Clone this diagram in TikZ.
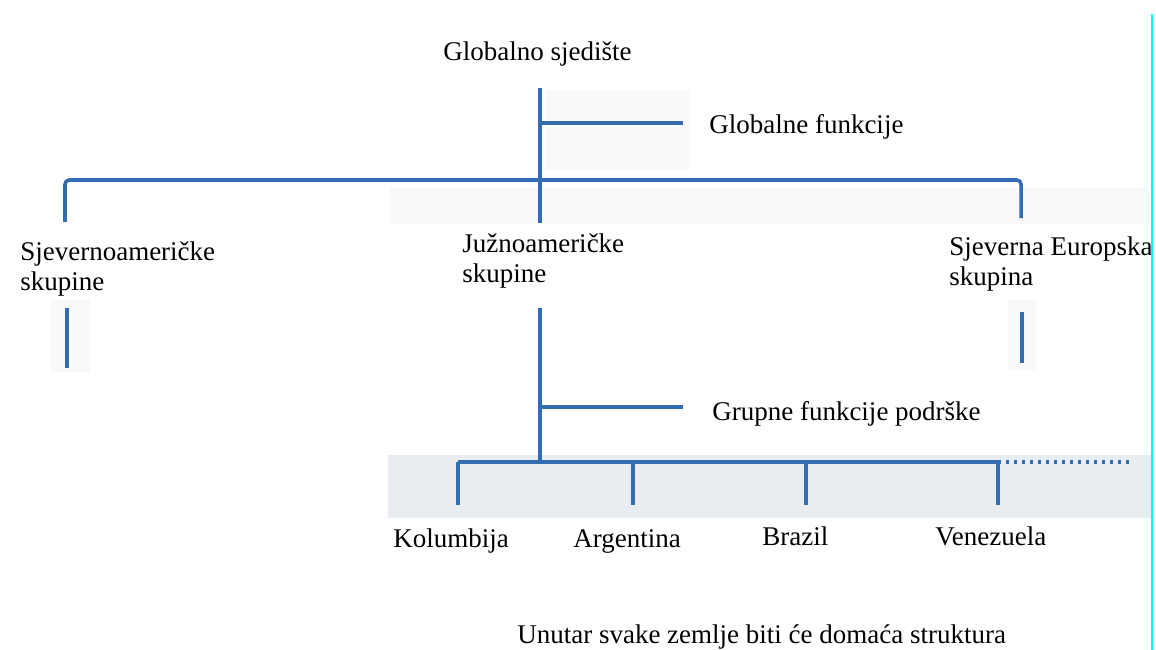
\documentclass[tikz,border=0pt]{standalone}
\usepackage{fontspec}
\setmainfont{Liberation Serif}
\definecolor{linija}{RGB}{52,108,178}
\definecolor{sjena}{RGB}{233,237,242}
\definecolor{blijedo}{RGB}{248,249,251}
\definecolor{rub}{RGB}{0,255,255}
\tikzset{
  crta/.style={draw=linija, line width=2.5pt},
  tekst/.style={inner sep=0pt, anchor=base west, align=left,
    font=\fontsize{19.2}{21.3}\selectfont},
}

\begin{document}
\begin{tikzpicture}[x=0.025cm, y=-0.025cm]
\useasboundingbox[fill=white] (0,0) rectangle (1156,650);
\fill[blijedo] (545,90) rectangle (690,170);
\fill[blijedo] (390,188) rectangle (1150,224);
\fill[blijedo] (50,300) rectangle (90,372);
\fill[blijedo] (1008,300) rectangle (1036,370);
\fill[sjena] (388,455) rectangle (1152,518);

\node[tekst] (hq) at (443,61) {Globalno sjedište};
\node[tekst] (gf) at (709,133) {Globalne funkcije};
\node[tekst] (na) at (20,290) {Sjevernoameričke\\skupine};
\node[tekst] (sa) at (462,282) {Južnoameričke\\skupine};
\node[tekst] (eu) at (949,285) {Sjeverna Europska\\skupina};
\node[tekst] (gs) at (712,420) {Grupne funkcije podrške};
\node[tekst] (kol) at (393,547) {Kolumbija};
\node[tekst] (arg) at (573,547) {Argentina};
\node[tekst] (bra) at (762,545) {Brazil};
\node[tekst] (ven) at (935,545) {Venezuela};
\node[tekst] (dom) at (517,643) {Unutar svake zemlje biti će domaća struktura};

\coordinate (v0) at (540,88);
\coordinate (v1) at (540,223);
\coordinate (g0) at (540,123);
\coordinate (g1) at (683,123);
\coordinate (n0) at (65,222);
\coordinate (e0) at (1021,218);
\coordinate (n1) at (67,308);
\coordinate (n2) at (67,368);
\coordinate (e1) at (1022,312);
\coordinate (e2) at (1022,363);
\coordinate (s0) at (540,308);
\coordinate (s1) at (540,462);
\coordinate (p0) at (540,407);
\coordinate (p1) at (683,407);
\coordinate (b0) at (458,462);
\coordinate (b1) at (998,462);
\coordinate (b2) at (1130,462);

\draw[crta] (v0) -- (v1);
\draw[crta] (g0) -- (g1);
\draw[crta, rounded corners=3pt] (n0) |- (540,180) -| (e0);
\draw[crta] (n1) -- (n2);
\draw[crta] (e1) -- (e2);
\draw[crta] (s0) -- (s1);
\draw[crta] (p0) -- (p1);
\draw[crta] (b0) -- (b1);
\draw[crta, dash pattern=on 2pt off 3.7pt] (b1) -- (b2);
\foreach \x in {458,633,806,998}
  \draw[crta] (\x,462) -- (\x,505);
\draw[rub, line width=2pt] (1152,14) -- (1152,650);
\end{tikzpicture}
\end{document}
